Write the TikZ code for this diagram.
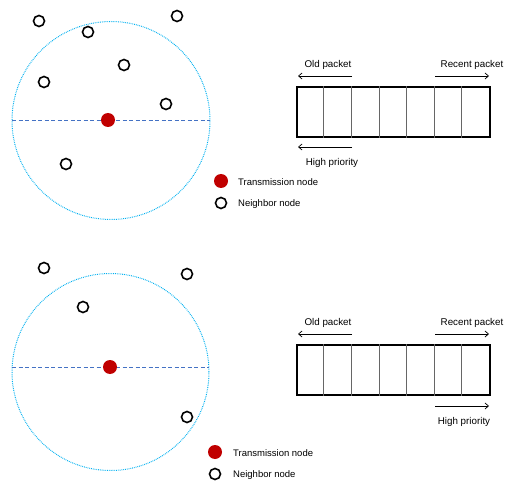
\documentclass[tikz,border=0pt]{standalone}
\usepackage{fontspec}
\setmainfont{Liberation Sans}
\usetikzlibrary{arrows.meta}
\definecolor{rangeblue}{RGB}{0,176,240}
\definecolor{dashblue}{RGB}{68,114,196}
\definecolor{txred}{RGB}{192,0,0}
\tikzset{
  neigh/.style={circle,draw=black,line width=1.6pt,minimum size=11pt,inner sep=0pt},
  txnode/.style={circle,fill=txred,minimum size=14pt,inner sep=0pt},
  rangecircle/.style={circle,draw=rangeblue,line width=1pt,dash pattern=on 0.8pt off 1pt,inner sep=0pt},
  diam/.style={draw=dashblue,line width=0.8pt,dash pattern=on 4pt off 2.5pt},
  lbl/.style={font=\fontsize{9.8}{11}\selectfont,inner sep=0pt},
  legtxt/.style={font=\fontsize{9.5}{11}\selectfont,anchor=west,inner sep=0pt},
  buffer/.style={draw=black,line width=1.5pt,minimum width=193pt,minimum height=50pt,inner sep=0pt},
  cellline/.style={draw=black!60,line width=0.7pt},
  dirarrow/.style={-{Straight Barb[length=3.5pt,width=6pt]},line width=0.7pt}
}
\begin{document}
\begin{tikzpicture}[x=1pt,y=-1pt]
\useasboundingbox (0,0) rectangle (514,481);
% ---------- top scenario ----------
\node[rangecircle,minimum size=198pt] (r1) at (111,120.5) {};
\coordinate (d1l) at (12,120);
\coordinate (d1r) at (210,120);
\draw[diam] (d1l) -- (d1r);
\node[txnode] (t1) at (108,120) {};
\node[neigh] (n11) at (39,21) {};
\node[neigh] (n12) at (88,32) {};
\node[neigh] (n13) at (177,16) {};
\node[neigh] (n14) at (124,65) {};
\node[neigh] (n15) at (44,82) {};
\node[neigh] (n16) at (166,104) {};
\node[neigh] (n17) at (66,164) {};
% legend
\node[txnode] (lt1) at (221,181) {};
\node[legtxt] (ltt1) at (238,182) {Transmission node};
\node[neigh] (ln1) at (221,203) {};
\node[legtxt] (lnt1) at (238,204) {Neighbor node};
% buffer
\node[buffer] (b1) at (393.5,112) {};
\foreach \i in {1,...,6} {
  \draw[cellline] ([xshift=\i*27.57pt]b1.north west) -- ([xshift=\i*27.57pt]b1.south west);
}
\node[lbl] (old1) at (328,65) {Old packet};
\coordinate (o1s) at (352,76); \coordinate (o1e) at (298,76);
\draw[dirarrow] (o1s) -- (o1e);
\node[lbl] (rec1) at (472,65) {Recent packet};
\coordinate (r1s) at (435,76); \coordinate (r1e) at (489,76);
\draw[dirarrow] (r1s) -- (r1e);
\coordinate (h1s) at (352,147); \coordinate (h1e) at (298,147);
\draw[dirarrow] (h1s) -- (h1e);
\node[lbl] (hp1) at (332,163) {High priority};
% ---------- bottom scenario ----------
\node[rangecircle,minimum size=197pt] (r2) at (110.5,372) {};
\coordinate (d2l) at (12,367);
\coordinate (d2r) at (209,367);
\draw[diam] (d2l) -- (d2r);
\node[txnode] (t2) at (110,367) {};
\node[neigh] (n21) at (44,268) {};
\node[neigh] (n22) at (187,274) {};
\node[neigh] (n23) at (83,307) {};
\node[neigh] (n24) at (187,417) {};
% legend
\node[txnode] (lt2) at (215,452) {};
\node[legtxt] (ltt2) at (233,453) {Transmission node};
\node[neigh] (ln2) at (215,474) {};
\node[legtxt] (lnt2) at (233,475) {Neighbor node};
% buffer
\node[buffer] (b2) at (393.5,370) {};
\foreach \i in {1,...,6} {
  \draw[cellline] ([xshift=\i*27.57pt]b2.north west) -- ([xshift=\i*27.57pt]b2.south west);
}
\node[lbl] (old2) at (328,323) {Old packet};
\coordinate (o2s) at (352,334); \coordinate (o2e) at (298,334);
\draw[dirarrow] (o2s) -- (o2e);
\node[lbl] (rec2) at (472,323) {Recent packet};
\coordinate (r2s) at (435,334); \coordinate (r2e) at (489,334);
\draw[dirarrow] (r2s) -- (r2e);
\coordinate (h2s) at (435,406); \coordinate (h2e) at (489,406);
\draw[dirarrow] (h2s) -- (h2e);
\node[lbl] (hp2) at (464,422) {High priority};
\end{tikzpicture}
\end{document}
